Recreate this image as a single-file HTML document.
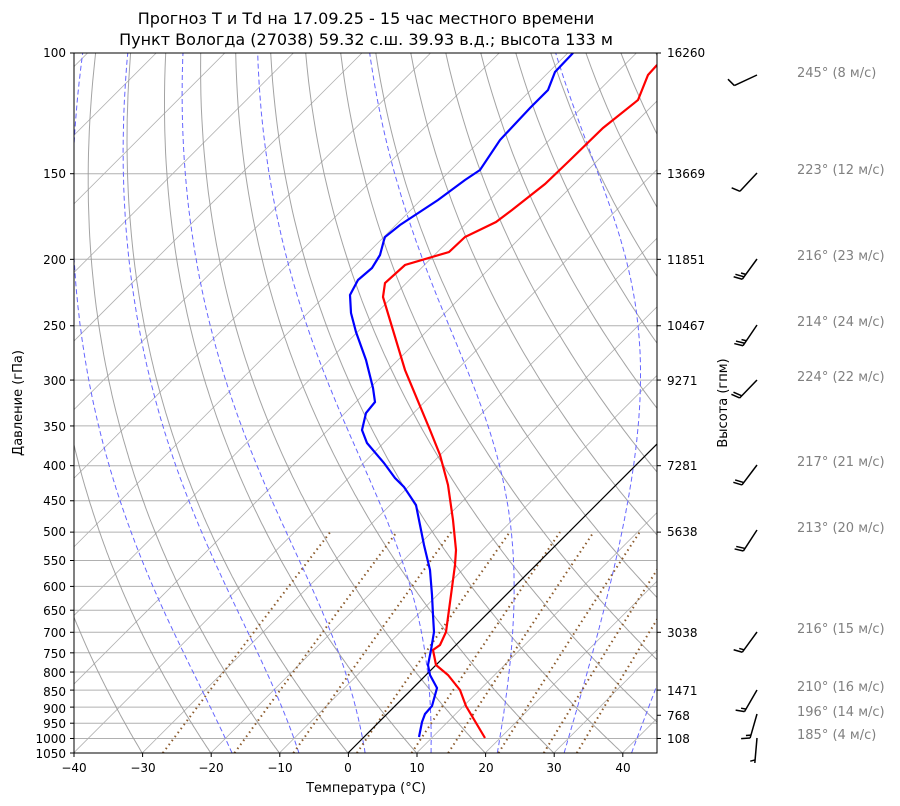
<!DOCTYPE html>
<html><head><meta charset="utf-8"><style>
html,body{margin:0;padding:0;background:#fff;}
svg{display:block;font-family:"DejaVu Sans","Liberation Sans",sans-serif;}
</style></head><body>
<svg id="s" width="900" height="806" viewBox="0 0 900 806" xmlns="http://www.w3.org/2000/svg">
<defs><clipPath id="c"><rect x="74" y="53" width="583" height="700"/></clipPath></defs>
<rect width="900" height="806" fill="#fff"/>
<g id="plot" clip-path="url(#c)"></g>
<rect x="74" y="53" width="583" height="700" fill="none" stroke="#000" stroke-width="1"/>
<g id="ticks" stroke="#000" stroke-width="1"></g>
<g font-size="12" fill="#000" text-anchor="end">
<text x="66" y="57">100</text><text x="66" y="178">150</text><text x="66" y="264">200</text>
<text x="66" y="330">250</text><text x="66" y="385">300</text><text x="66" y="431">350</text>
<text x="66" y="470">400</text><text x="66" y="505">450</text><text x="66" y="536">500</text>
<text x="66" y="565">550</text><text x="66" y="591">600</text><text x="66" y="615">650</text>
<text x="66" y="637">700</text><text x="66" y="658">750</text><text x="66" y="677">800</text>
<text x="66" y="696">850</text><text x="66" y="713">900</text><text x="66" y="728">950</text>
<text x="66" y="743">1000</text><text x="66" y="758">1050</text>
</g>
<g font-size="12" fill="#000" text-anchor="start">
<text x="667" y="57">16260</text><text x="667" y="178">13669</text><text x="667" y="264">11851</text>
<text x="667" y="330">10467</text><text x="667" y="385">9271</text><text x="667" y="470">7281</text>
<text x="667" y="536">5638</text><text x="667" y="637">3038</text><text x="667" y="695">1471</text>
<text x="667" y="720">768</text><text x="667" y="743">108</text>
</g>
<g font-size="12" fill="#000" text-anchor="middle">
<text x="74" y="772">−40</text><text x="143" y="772">−30</text><text x="211" y="772">−20</text>
<text x="280" y="772">−10</text><text x="348" y="772">0</text><text x="417" y="772">10</text>
<text x="486" y="772">20</text><text x="554" y="772">30</text><text x="623" y="772">40</text>
</g>
<text x="366" y="792" font-size="13" text-anchor="middle">Температура (°C)</text>
<text transform="translate(22,403) rotate(-90)" font-size="13" text-anchor="middle">Давление (гПа)</text>
<text transform="translate(727,403) rotate(-90)" font-size="13" text-anchor="middle">Высота (гпм)</text>
<text x="366" y="24" font-size="16" text-anchor="middle">Прогноз T и Td на 17.09.25 - 15 час местного времени</text>
<text x="366" y="45" font-size="16" text-anchor="middle">Пункт Вологда (27038) 59.32 с.ш. 39.93 в.д.; высота 133 м</text>
<g font-size="13" fill="#808080">
<text x="797" y="77">245° (8 м/с)</text><text x="797" y="174">223° (12 м/с)</text>
<text x="797" y="260">216° (23 м/с)</text><text x="797" y="326">214° (24 м/с)</text>
<text x="797" y="381">224° (22 м/с)</text><text x="797" y="466">217° (21 м/с)</text>
<text x="797" y="532">213° (20 м/с)</text><text x="797" y="633">216° (15 м/с)</text>
<text x="797" y="691">210° (16 м/с)</text><text x="797" y="716">196° (14 м/с)</text>
<text x="797" y="739">185° (4 м/с)</text>
</g>
<g id="barbs" stroke="#000" stroke-width="1.5" fill="none"></g>
</svg>
<script>
var NS="http://www.w3.org/2000/svg";
function Y(p){return 53+Math.log(p/100)/Math.log(10.5)*700;}
function X(T,p){return 348+T*6.86+(753-Y(p));}
var plot=document.getElementById('plot');
function poly(pts,st){var e=document.createElementNS(NS,'polyline');e.setAttribute('points',pts.map(function(a){return a[0].toFixed(1)+','+a[1].toFixed(1)}).join(' '));e.setAttribute('fill','none');for(var k in st)e.setAttribute(k,st[k]);plot.appendChild(e);}
var P=[];for(var p=1050;p>=100;p-=5)P.push(p);
[100,150,200,250,300,350,400,450,500,550,600,650,700,750,800,850,900,950,1000,1050].forEach(function(p){poly([[74,Y(p)],[657,Y(p)]],{stroke:'#b0b0b0','stroke-width':1});});
for(var t=-160;t<=40;t+=10){poly([[X(t,1050),Y(1050)],[X(t,100),Y(100)]],{stroke:'#b0b0b0','stroke-width':0.8});}
for(var t0=-30;t0<=200;t0+=10){var th=(t0+273.15);poly(P.map(function(p){return [X(th*Math.pow(p/1050,0.286)-273.15,p),Y(p)]}),{stroke:'#999','stroke-width':1,opacity:0.9});}
function es(T){return 6.112*Math.exp(17.67*T/(T+243.5));}
function mlr(T,p){var e=es(T-273.15),rs=0.622*e/(p-e);return (287*T+2.5e6*rs)/(1005+2.5e6*2.5e6*rs*0.622/(287*T*T))/p;}
[-20,-10,0,10,20,30,40].forEach(function(t0){
 var T=t0+273.15,p=1000;
 while(p<1050){T+=mlr(T,p)*1;p+=1;}
 var pts=[];
 while(p>=100){pts.push([X(T-273.15,p),Y(p)]);T-=mlr(T,p)*2;p-=2;}
 poly(pts,{stroke:'#6666ff','stroke-width':1,'stroke-dasharray':'5,3'});});
[0.0004,0.001,0.002,0.004,0.007,0.01,0.016,0.024,0.032].forEach(function(w){
 var pts=[];for(var p=1050;p>=500;p-=10){var e=p*w/(0.622+w),l=Math.log(e/6.112);var td=243.5*l/(17.67-l);pts.push([X(td,p),Y(p)]);}
 poly(pts,{stroke:'#8b5a2b','stroke-width':2,'stroke-dasharray':'1.5,3.5'});});
poly([[X(0,1050),Y(1050)],[X(0,100),Y(100)]],{stroke:'#000','stroke-width':1.2});
poly([[485,738],[466,706],[460,690],[448,675],[436,665],[433,650],[440,645],[446,632],[451,595],[455,565],[456,550],[453,520],[448,485],[440,455],[430,430],[405,370],[383,297],[385,283],[405,265],[449,252],[465,237],[496,222],[512,210],[545,184],[568,162],[603,128],[638,100],[648,75],[657,65]],{stroke:'#ff0000','stroke-width':2.2});
poly([[419,737],[422,722],[425,714],[432,706],[437,688],[430,675],[428,665],[431,650],[434,632],[433,615],[432,595],[430,570],[424,545],[418,515],[416,505],[404,487],[395,478],[384,463],[367,443],[362,430],[366,413],[375,402],[373,388],[366,360],[356,332],[351,313],[350,295],[358,280],[372,268],[380,255],[384,240],[385,237],[400,225],[438,200],[465,180],[480,170],[500,140],[530,108],[548,90],[555,72],[573,53]],{stroke:'#0000ff','stroke-width':2.2});
var tk=document.getElementById('ticks');
function ln(x1,y1,x2,y2,g){var e=document.createElementNS(NS,'line');e.setAttribute('x1',x1);e.setAttribute('y1',y1);e.setAttribute('x2',x2);e.setAttribute('y2',y2);g.appendChild(e);}
[100,150,200,250,300,350,400,450,500,550,600,650,700,750,800,850,900,950,1000,1050].forEach(function(p){ln(70,Y(p),74,Y(p),tk);});
[100,150,200,250,300,400,500,700,850,925,1000].forEach(function(p){ln(657,Y(p),661,Y(p),tk);});
for(var t=-40;t<=40;t+=10)ln(74+(t+40)*6.86,753,74+(t+40)*6.86,757,tk);
var bg=document.getElementById('barbs');
[[245,8,75],[223,12,173],[216,23,259],[214,24,325],[224,22,380],[217,21,465],[213,20,530],[216,15,632],[210,16,690],[196,14,714],[185,4,738]].forEach(function(b){
 var a=(b[0]+180)*Math.PI/180,dx=Math.sin(a),dy=-Math.cos(a),L=25;
 var tx=757,ty=b[2],bx=tx-dx*L,by=ty-dy*L;ln(tx,ty,bx,by,bg);
 var n5=Math.round(b[1]/5),full=Math.floor(n5/2),half=n5%2;
 var ba=Math.atan2(-dy,-dx)+70*Math.PI/180,ux=Math.cos(ba),uy=Math.sin(ba);
 var pos=0;for(var i=0;i<full;i++){var sx=bx+dx*pos,sy=by+dy*pos;ln(sx,sy,sx+ux*9,sy+uy*9,bg);pos+=3;}
 if(half){if(full==0)pos=3;var sx=bx+dx*pos,sy=by+dy*pos;ln(sx,sy,sx+ux*5,sy+uy*5,bg);}
});
</script>
</body></html>
